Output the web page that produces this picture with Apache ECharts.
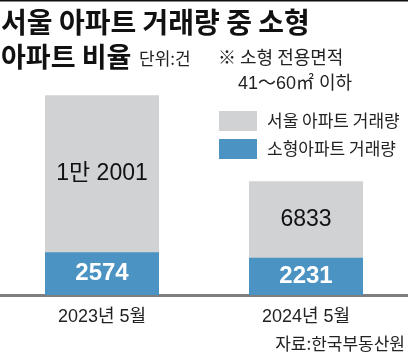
<!DOCTYPE html>
<html><head><meta charset="utf-8">
<script src="https://cdn.jsdelivr.net/npm/echarts@6/dist/echarts.min.js"></script>
<style>html,body{margin:0;padding:0;background:#fff}#c{width:408px;height:355px}</style>
</head><body><div id="c"></div>
<script>
const categories = ['2023년 5월', '2024년 5월'];
const seoulTotal = [12001, 6833];
const smallApt = [2574, 2231];
const seriesNames = ['서울 아파트 거래량', '소형아파트 거래량'];
const titleLine1 = '서울 아파트 거래량 중 소형';
const titleLine2 = '아파트 비율';
const unitText = '단위:건';
const noteLine1 = '※ 소형 전용면적';
const noteLine2 = '41～60㎡ 이하';
const sourceText = '자료:한국부동산원';

const NUMF = "'Liberation Sans','Noto Sans CJK KR',sans-serif";
const KRF = "'Noto Sans CJK KR',sans-serif";
const GRAY = '#d1d2d4', BLUE = '#4a93c2';

function fmtKr(v) {
  if (v >= 10000) { const r = v % 10000; return Math.floor(v / 10000) + '만 ' + (r ? r : ''); }
  return String(v);
}

const chart = echarts.init(document.getElementById('c'), null, {renderer: 'canvas'});
chart.setOption({
  animation: false,
  grid: {left: -3, width: 423, top: 62, bottom: 60},
  legend: {
    left: 214, top: 106, orient: 'vertical', itemWidth: 38, itemHeight: 20, itemGap: 8,
    icon: 'rect', selectedMode: false, data: [seriesNames[0], seriesNames[1]],
    textStyle: {fontFamily: KRF, fontSize: 17, color: '#222', padding: [0, 0, 0, 5]}
  },
  xAxis: {
    type: 'category', data: categories,
    axisLine: {lineStyle: {color: '#7f7f7f', width: 3}},
    axisTick: {show: false},
    axisLabel: {fontFamily: NUMF, fontSize: 18, color: '#222', margin: 13}
  },
  yAxis: {type: 'value', min: 0, max: 14000, show: false, splitLine: {show: false}},
  series: [
    {
      name: seriesNames[0], type: 'bar', barWidth: 114, itemStyle: {color: GRAY},
      data: seoulTotal.map((t, i) => ({
        value: t,
        label: {show: true, position: ['50%', ((1 - smallApt[i] / t) / 2 * 100) + '%'],
          align: 'center', verticalAlign: 'middle'}
      })),
      label: {formatter: p => fmtKr(p.value), fontFamily: NUMF, fontSize: 23, color: '#111'}
    },
    {
      name: seriesNames[1], type: 'bar', barWidth: 114, barGap: '-100%', itemStyle: {color: BLUE},
      data: smallApt,
      label: {show: true, position: 'inside', fontFamily: NUMF, fontSize: 24, fontWeight: 'bold', color: '#fff'}
    }
  ],
  graphic: [
    {type: 'rect', shape: {x: 0, y: 0, width: 408, height: 1.5}, style: {fill: '#111'}},
    {type: 'text', style: {x: 1, y: 22, text: titleLine1, font: "bold 28px 'Noto Sans CJK KR'", fill: '#111', verticalAlign: 'middle'}},
    {type: 'text', style: {x: 1, y: 57, text: titleLine2, font: "bold 27px 'Noto Sans CJK KR'", fill: '#111', verticalAlign: 'middle'}},
    {type: 'text', style: {x: 139, y: 59, text: unitText, font: "17px 'Noto Sans CJK KR'", fill: '#222', verticalAlign: 'middle'}},
    {type: 'text', style: {x: 218, y: 57, text: noteLine1, font: "18px 'Noto Sans CJK KR'", fill: '#222', verticalAlign: 'middle'}},
    {type: 'text', style: {x: 238, y: 84, text: noteLine2, font: "18px " + NUMF, fill: '#222', verticalAlign: 'middle'}},
    {type: 'text', style: {x: 405, y: 344, text: sourceText, font: "17px 'Noto Sans CJK KR'", fill: '#222', verticalAlign: 'middle', align: 'right'}}
  ]
});
</script></body></html>
